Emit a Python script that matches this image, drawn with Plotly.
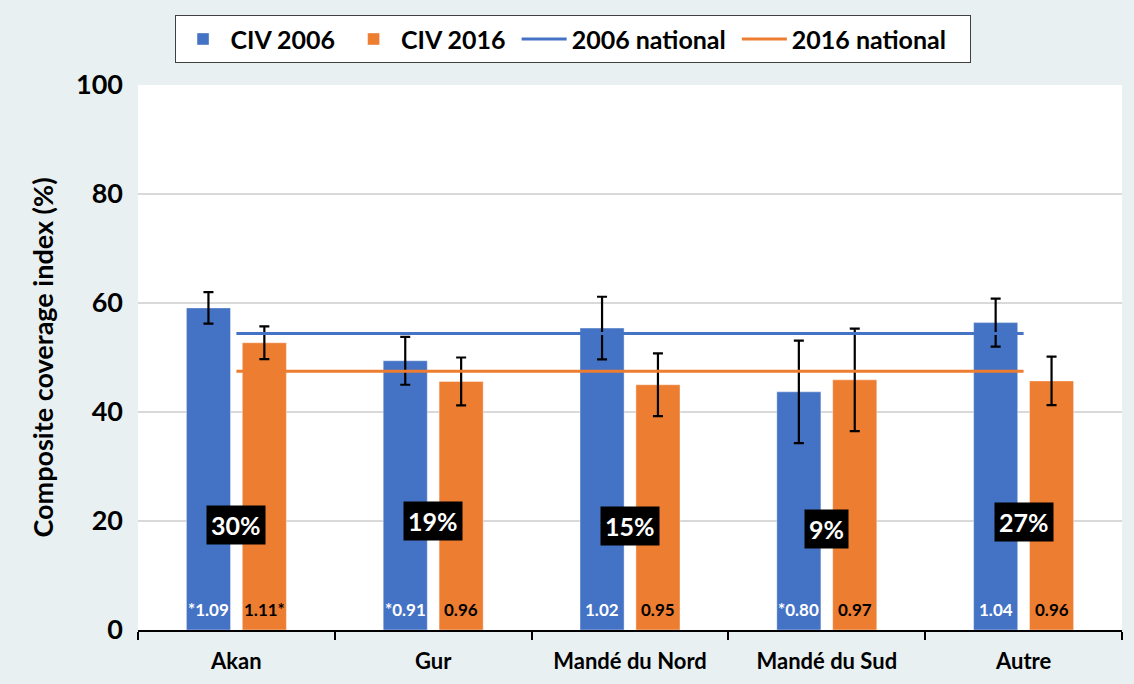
import plotly.graph_objects as go

groups = ["Akan", "Gur", "Mandé du Nord", "Mandé du Sud", "Autre"]

civ_2006 = [59.1, 49.4, 55.4, 43.7, 56.4]
civ_2006_err = [2.9, 4.4, 5.75, 9.4, 4.4]
civ_2016 = [52.7, 45.6, 45.0, 45.9, 45.7]
civ_2016_err = [3.0, 4.4, 5.75, 9.4, 4.45]

national_2006 = 54.4
national_2016 = 47.5

ratio_2006 = ["*1.09", "*0.91", "1.02", "*0.80", "1.04"]
ratio_2016 = ["1.11*", "0.96", "0.95", "0.97", "0.96"]

gap_labels = ["30%", "19%", "15%", "9%", "27%"]

BLUE = "#4472c4"
ORANGE = "#ed7d31"
FONT = "Lato"
NB = "\u00a0"

fig = go.Figure()

fig.add_trace(go.Bar(
    x=groups, y=civ_2006, name="CIV 2006" + NB,
    marker=dict(color=BLUE, line=dict(color="rgba(255,255,255,0.4)", width=1)),
    width=0.224, offset=-0.254,
    error_y=dict(type="data", array=civ_2006_err, color="black", thickness=2.2, width=5),
))
fig.add_trace(go.Bar(
    x=groups, y=civ_2016, name="CIV 2016" + NB,
    marker=dict(color=ORANGE, line=dict(color="rgba(255,255,255,0.4)", width=1)),
    width=0.224, offset=0.030,
    error_y=dict(type="data", array=civ_2016_err, color="black", thickness=2.2, width=5),
))
fig.add_trace(go.Scatter(
    x=groups, y=[national_2006] * len(groups), name="2006 national" + NB,
    mode="lines", line=dict(color=BLUE, width=3),
))
fig.add_trace(go.Scatter(
    x=groups, y=[national_2016] * len(groups), name="2016 national" + NB * 3,
    mode="lines", line=dict(color=ORANGE, width=3),
))

# ratio labels at the foot of each bar
for g, r06, r16 in zip(groups, ratio_2006, ratio_2016):
    fig.add_annotation(x=g, y=0, text=r06, showarrow=False, yanchor="bottom",
                       xshift=-28, yshift=8,
                       font=dict(color="white", size=17, family=FONT, weight="bold"))
    fig.add_annotation(x=g, y=0, text=r16, showarrow=False, yanchor="bottom",
                       xshift=28, yshift=8,
                       font=dict(color="black", size=17, family=FONT, weight="bold"))

# black boxes with the percentages, sitting around y=20
label_y = [19.3, 20.0, 19.0, 18.6, 19.9]
for g, lab, yy in zip(groups, gap_labels, label_y):
    fig.add_annotation(
        x=g, y=yy, text=lab, showarrow=False,
        font=dict(color="white", size=25, family=FONT, weight="bold"),
        bgcolor="black", borderpad=4,
    )

fig.update_layout(
    width=1134, height=684,
    margin=dict(l=138, r=12, t=85, b=54, autoexpand=False),
    paper_bgcolor="#e8f0f2", plot_bgcolor="white",
    font=dict(family=FONT, color="black", weight="bold"),
    barmode="overlay",
    showlegend=True,
    legend=dict(
        orientation="h", x=0.4416, xanchor="center", y=1.128, yanchor="top",
        bgcolor="white", bordercolor="#404040", borderwidth=1,
        font=dict(size=25, family=FONT, weight="bold"),
        itemwidth=45, traceorder="normal",
    ),
    xaxis=dict(
        range=[-0.5, 4.5], automargin=False,
        showline=True, linecolor="black", linewidth=1.5,
        ticks="outside", tickson="boundaries", ticklen=8, tickcolor="black", tickwidth=1.5,
        ticklabelstandoff=11,
        tickfont=dict(size=22, family=FONT, weight="bold"),
        showgrid=False,
    ),
    yaxis=dict(
        range=[0, 100], tickvals=[0, 20, 40, 60, 80, 100], automargin=False,
        showgrid=True, gridcolor="#d9d9d9", gridwidth=2,
        showline=False, zeroline=False,
        ticks="", ticklabelstandoff=14,
        tickfont=dict(size=27, family=FONT, weight="bold"),
        title=dict(text="Composite coverage index (%)" + NB * 8, standoff=14,
                   font=dict(size=27, family=FONT, weight="bold")),
    ),
)

fig.write_html("out.html", config={"displayModeBar": False},
               post_script="document.body.style.margin = '0';")
